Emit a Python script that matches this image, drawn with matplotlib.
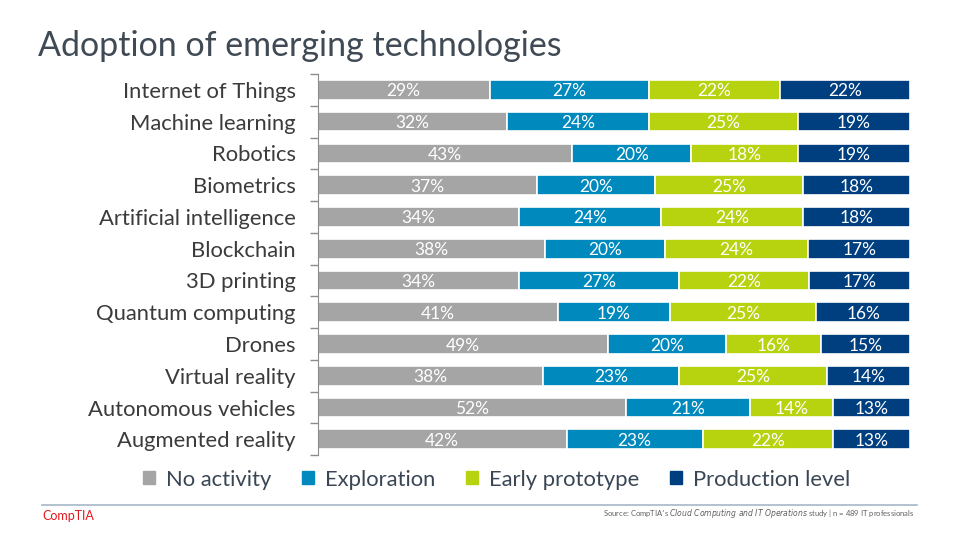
import numpy as np
import matplotlib
matplotlib.use("Agg")
from matplotlib import pyplot as plt
from matplotlib.patches import Rectangle

plt.rcParams['font.family'] = ['Lato', 'DejaVu Sans']

# data, top row first
categories = ["Internet of Things", "Machine learning", "Robotics", "Biometrics",
              "Artificial intelligence", "Blockchain", "3D printing", "Quantum computing",
              "Drones", "Virtual reality", "Autonomous vehicles", "Augmented reality"]
series = ["No activity", "Exploration", "Early prototype", "Production level"]
no_activity = [29, 32, 43, 37, 34, 38, 34, 41, 49, 38, 52, 42]
exploration = [27, 24, 20, 20, 24, 20, 27, 19, 20, 23, 21, 23]
early_prototype = [22, 25, 18, 25, 24, 24, 22, 25, 16, 25, 14, 22]
production = [22, 19, 19, 18, 18, 17, 17, 16, 15, 14, 13, 13]
colors = ["#a5a5a5", "#0089bd", "#b7d30f", "#003f7f"]

vals = np.array([no_activity, exploration, early_prototype, production], dtype=float)
shares = vals / vals.sum(axis=0)  # 100% stacked

fig = plt.figure(figsize=(9.6, 5.4), dpi=100)
ax = fig.add_axes([0.331, 0.157, 0.617, 0.706])

y = np.arange(len(categories))
left = np.zeros(len(categories))
for i in range(len(series)):
    bars = ax.barh(y, shares[i], left=left, height=0.62, color=colors[i],
                   edgecolor="white", linewidth=1.2, label=series[i])
    for b, v in zip(bars, vals[i]):
        ax.text(b.get_x() + b.get_width() / 2, b.get_y() + b.get_height() / 2,
                "%d%%" % v, ha="center", va="center_baseline", color="white", fontsize=12.5)
    left += shares[i]

ax.set_xlim(0, 1)
ax.set_ylim(len(categories) - 0.5, -0.5)
ax.set_yticks(y)
ax.set_yticklabels(categories, fontsize=15.8, color="#3b3b3b")
ax.tick_params(axis="y", which="major", length=0, pad=16)
ax.set_yticks(np.arange(-0.5, len(categories)), minor=True)
ax.tick_params(axis="y", which="minor", length=6, color="#8c8c8c", width=1)
ax.set_xticks([])
for s in ["top", "right", "bottom"]:
    ax.spines[s].set_visible(False)
ax.spines["left"].set_color("#8c8c8c")

fig.text(0.04, 0.915, "Adoption of emerging technologies", fontsize=24.5,
         color="#404a55", ha="left", va="center")

# legend
leg = fig.legend(handles=[Rectangle((0, 0), 1, 1, color=c) for c in colors],
                 labels=series, loc="center", bbox_to_anchor=(0.517, 0.112), ncol=4,
                 frameon=False, fontsize=15.8, handlelength=0.55, handleheight=0.55,
                 handletextpad=0.5, columnspacing=1.4)
for t in leg.get_texts():
    t.set_color("#3a4654")

# footer
fig.add_artist(plt.Line2D([0.044, 0.955], [0.065, 0.065], color="#a6b8c6", linewidth=1.2))
fig.text(0.044, 0.045, "CompTIA", fontsize=9, color="#e3181f", ha="left", va="center")
fig.text(0.953, 0.05, "Source: CompTIA\u2019s $\\it{Cloud\\ Computing\\ and\\ IT\\ Operations}$ study | n = 489 IT professionals",
         fontsize=5.5, color="#606060", ha="right", va="center")

fig.savefig("out.png", dpi=100)
